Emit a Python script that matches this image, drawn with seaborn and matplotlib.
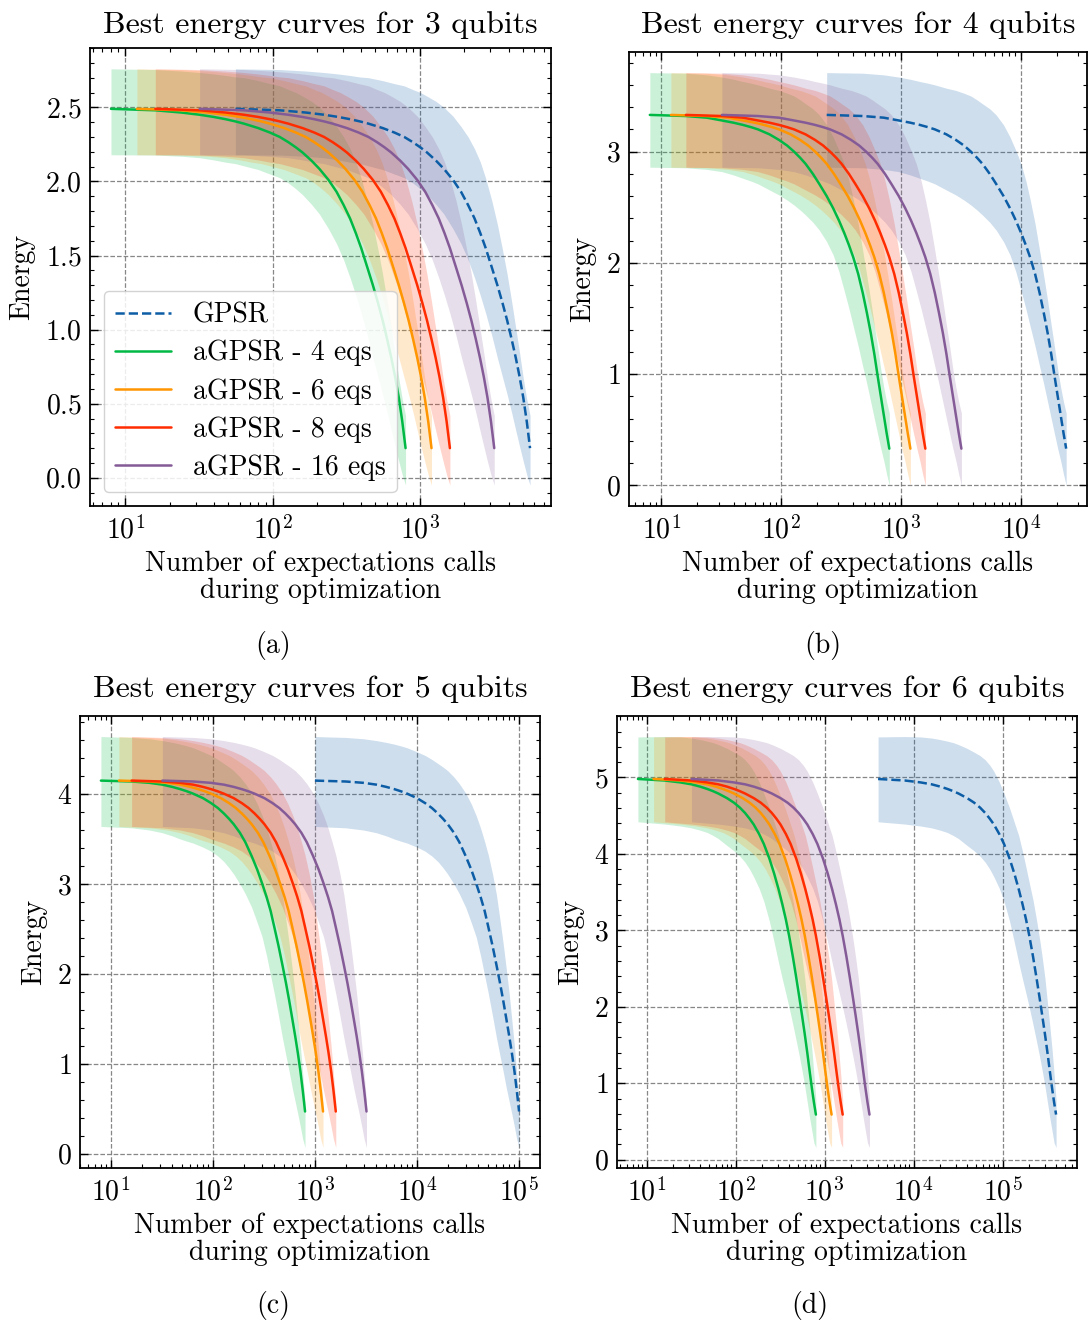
import numpy as np
import pandas as pd
import matplotlib
matplotlib.use("Agg")
import matplotlib.pyplot as plt
import seaborn as sns
from matplotlib.ticker import MultipleLocator, AutoMinorLocator, LogLocator, NullFormatter

# ---------------- data ----------------
methods = ["GPSR", "aGPSR - 4 eqs", "aGPSR - 6 eqs", "aGPSR - 8 eqs", "aGPSR - 16 eqs"]
colors = ["#0C5DA5", "#00B945", "#FF9500", "#FF2C00", "#845B97"]
agpsr_calls = [8, 12, 16, 32]                 # expectation calls per iteration
gpsr_calls = {3: 56, 4: 240, 5: 1000, 6: 4000}
qubits = [3, 4, 5, 6]
captions = ["(a)", "(b)", "(c)", "(d)"]
iterations = [1, 2, 3, 4, 5, 6, 7, 8, 10, 12, 14, 16, 18, 20, 23, 26, 30, 34, 38, 42, 46, 50,
              55, 60, 65, 70, 75, 80, 85, 90, 95, 100]

mean_3q = [2.49, 2.48, 2.465, 2.45, 2.435, 2.42, 2.405, 2.39, 2.36, 2.33, 2.30, 2.265, 2.23, 2.195,
           2.14, 2.085, 2.01, 1.93, 1.84, 1.75, 1.65, 1.55, 1.42, 1.30, 1.18, 1.06, 0.935, 0.81,
           0.68, 0.54, 0.38, 0.20]
upper_3q = [2.76, 2.755, 2.745, 2.735, 2.725, 2.715, 2.705, 2.70, 2.68, 2.66, 2.645, 2.62, 2.60, 2.575,
            2.54, 2.50, 2.44, 2.37, 2.30, 2.22, 2.13, 2.02, 1.87, 1.71, 1.54, 1.37, 1.19, 1.01,
            0.84, 0.67, 0.53, 0.42]
lower_3q = [2.18, 2.178, 2.17, 2.16, 2.145, 2.13, 2.12, 2.105, 2.08, 2.05, 2.025, 1.99, 1.95, 1.91,
            1.845, 1.78, 1.68, 1.58, 1.47, 1.35, 1.23, 1.11, 0.96, 0.81, 0.68, 0.56, 0.44, 0.32,
            0.21, 0.11, 0.02, -0.05]

mean_4q = [3.33, 3.32, 3.305, 3.28, 3.26, 3.24, 3.22, 3.20, 3.155, 3.105, 3.055, 3.00, 2.945, 2.89,
           2.80, 2.71, 2.60, 2.49, 2.38, 2.27, 2.16, 2.05, 1.90, 1.73, 1.55, 1.37, 1.18, 0.98,
           0.80, 0.63, 0.47, 0.33]
upper_4q = [3.71, 3.705, 3.69, 3.67, 3.65, 3.63, 3.615, 3.60, 3.57, 3.55, 3.525, 3.50, 3.465, 3.43,
            3.385, 3.33, 3.24, 3.13, 3.01, 2.89, 2.74, 2.57, 2.35, 2.11, 1.88, 1.66, 1.44, 1.24,
            1.04, 0.88, 0.75, 0.65]
lower_4q = [2.86, 2.855, 2.84, 2.82, 2.79, 2.76, 2.735, 2.71, 2.655, 2.61, 2.565, 2.52, 2.475, 2.43,
            2.365, 2.295, 2.19, 2.07, 1.92, 1.75, 1.59, 1.43, 1.25, 1.07, 0.91, 0.75, 0.60, 0.46,
            0.33, 0.22, 0.10, 0.00]

mean_5q = [4.15, 4.14, 4.125, 4.105, 4.08, 4.055, 4.03, 4.005, 3.955, 3.90, 3.845, 3.785, 3.725, 3.665,
           3.57, 3.465, 3.31, 3.16, 3.005, 2.855, 2.70, 2.52, 2.31, 2.10, 1.90, 1.70, 1.50, 1.31,
           1.12, 0.92, 0.70, 0.47]
upper_5q = [4.64, 4.63, 4.615, 4.595, 4.575, 4.555, 4.535, 4.515, 4.47, 4.43, 4.385, 4.34, 4.30, 4.26,
            4.19, 4.115, 4.01, 3.89, 3.76, 3.62, 3.47, 3.32, 3.11, 2.88, 2.60, 2.33, 2.05, 1.78,
            1.48, 1.20, 0.88, 0.58]
lower_5q = [3.64, 3.625, 3.60, 3.57, 3.535, 3.50, 3.475, 3.455, 3.41, 3.365, 3.31, 3.25, 3.18, 3.11,
            3.00, 2.89, 2.74, 2.57, 2.41, 2.20, 1.98, 1.78, 1.53, 1.29, 1.09, 0.91, 0.73, 0.58,
            0.44, 0.30, 0.16, 0.07]

mean_6q = [4.98, 4.96, 4.935, 4.91, 4.88, 4.85, 4.82, 4.79, 4.73, 4.67, 4.605, 4.535, 4.46, 4.385,
           4.26, 4.13, 3.94, 3.74, 3.54, 3.34, 3.14, 2.93, 2.66, 2.39, 2.13, 1.88, 1.64, 1.40,
           1.16, 0.94, 0.75, 0.59]
upper_6q = [5.53, 5.535, 5.53, 5.515, 5.495, 5.475, 5.455, 5.43, 5.38, 5.33, 5.285, 5.23, 5.16, 5.08,
            4.94, 4.79, 4.60, 4.41, 4.24, 4.03, 3.82, 3.62, 3.40, 3.15, 2.90, 2.64, 2.37, 2.05,
            1.75, 1.45, 1.12, 0.78]
lower_6q = [4.42, 4.39, 4.365, 4.34, 4.31, 4.28, 4.24, 4.20, 4.11, 4.04, 3.97, 3.89, 3.80, 3.70,
            3.55, 3.38, 3.12, 2.84, 2.58, 2.36, 2.17, 1.99, 1.77, 1.56, 1.36, 1.16, 0.96, 0.75,
            0.55, 0.38, 0.22, 0.16]

profiles = {
    3: (mean_3q, lower_3q, upper_3q),
    4: (mean_4q, lower_4q, upper_4q),
    5: (mean_5q, lower_5q, upper_5q),
    6: (mean_6q, lower_6q, upper_6q),
}

# build tidy table
rows = []
for q in qubits:
    mean, low, up = profiles[q]
    calls = [gpsr_calls[q]] + agpsr_calls
    for m, c in zip(methods, calls):
        for it, e, lo, hi in zip(iterations, mean, low, up):
            rows.append(dict(qubits=q, method=m, calls=c * it, energy=e, lower=lo, upper=hi))
df = pd.DataFrame(rows)

# ---------------- style ----------------
sns.set_theme(style="ticks")
plt.rcParams.update({
    "font.family": ["cmr10", "DejaVu Serif"],
    "mathtext.fontset": "cm",
    "axes.formatter.use_mathtext": True,
    "axes.unicode_minus": False,
    "xtick.direction": "in", "ytick.direction": "in",
    "xtick.top": True, "ytick.right": True,
    "xtick.major.size": 6, "ytick.major.size": 6,
    "xtick.minor.size": 3, "ytick.minor.size": 3,
    "xtick.major.width": 1.0, "ytick.major.width": 1.0,
    "xtick.minor.width": 0.8, "ytick.minor.width": 0.8,
    "xtick.major.pad": 7, "ytick.major.pad": 6,
    "axes.linewidth": 1.3,
    "axes.edgecolor": "black",
    "xtick.color": "black", "ytick.color": "black",
    "text.color": "black", "axes.labelcolor": "black",
})

fig = plt.figure(figsize=(10.92, 13.25), dpi=100)
W, H = 1092, 1325
boxes = [(90, 48, 551, 506), (629, 52, 1087, 506), (80, 716, 540, 1168), (617, 716, 1077, 1168)]
caption_pos = [(273, 645), (823, 645), (273, 1306), (810, 1306)]
title_pad = [11, 14, 13.5, 13.5]
ystep = [0.5, 1, 1, 1]

palette = dict(zip(methods, colors))
dashes = {m: "" for m in methods}
dashes["GPSR"] = (3.7, 1.6)

for i, q in enumerate(qubits):
    l, t, r, b = boxes[i]
    ax = fig.add_axes([l / W, 1 - b / H, (r - l) / W, (b - t) / H])
    sub = df[df.qubits == q]
    for m in methods:
        s = sub[sub.method == m]
        ax.fill_between(s.calls, s.lower, s.upper, color=palette[m], alpha=0.2, linewidth=0)
    sns.lineplot(data=sub, x="calls", y="energy", hue="method", style="method",
                 hue_order=methods, style_order=methods, palette=palette, dashes=dashes,
                 linewidth=1.8, errorbar=None, sort=True, ax=ax, legend=(i == 0))
    ax.set_xscale("log")
    ax.xaxis.set_major_locator(LogLocator(base=10, numticks=12))
    ax.xaxis.set_minor_locator(LogLocator(base=10, subs=np.arange(2, 10), numticks=12))
    ax.xaxis.set_minor_formatter(NullFormatter())
    ax.yaxis.set_major_locator(MultipleLocator(ystep[i]))
    ax.yaxis.set_minor_locator(AutoMinorLocator(5))
    ax.grid(True, which="major", linestyle="--", color="#7a7a7a", linewidth=0.9, alpha=0.9)
    ax.tick_params(labelsize=20)
    ax.set_title(f"Best energy curves for {q} qubits", fontsize=23, pad=title_pad[i])
    ax.set_xlabel("Number of expectations calls\nduring optimization", fontsize=20, linespacing=1.05)
    ax.set_ylabel("Energy", fontsize=20, labelpad=7)
    for sp in ax.spines.values():
        sp.set_visible(True)
    if i == 0:
        sns.move_legend(ax, "lower left", title=None, frameon=True, fontsize=20,
                        fancybox=True, framealpha=0.85, edgecolor="#cccccc",
                        labelspacing=0.42, borderpad=0.4)
    cx, cy = caption_pos[i]
    fig.text(cx / W, 1 - cy / H, captions[i], ha="center", va="center", fontsize=20)

fig.savefig("out.png", dpi=100)
